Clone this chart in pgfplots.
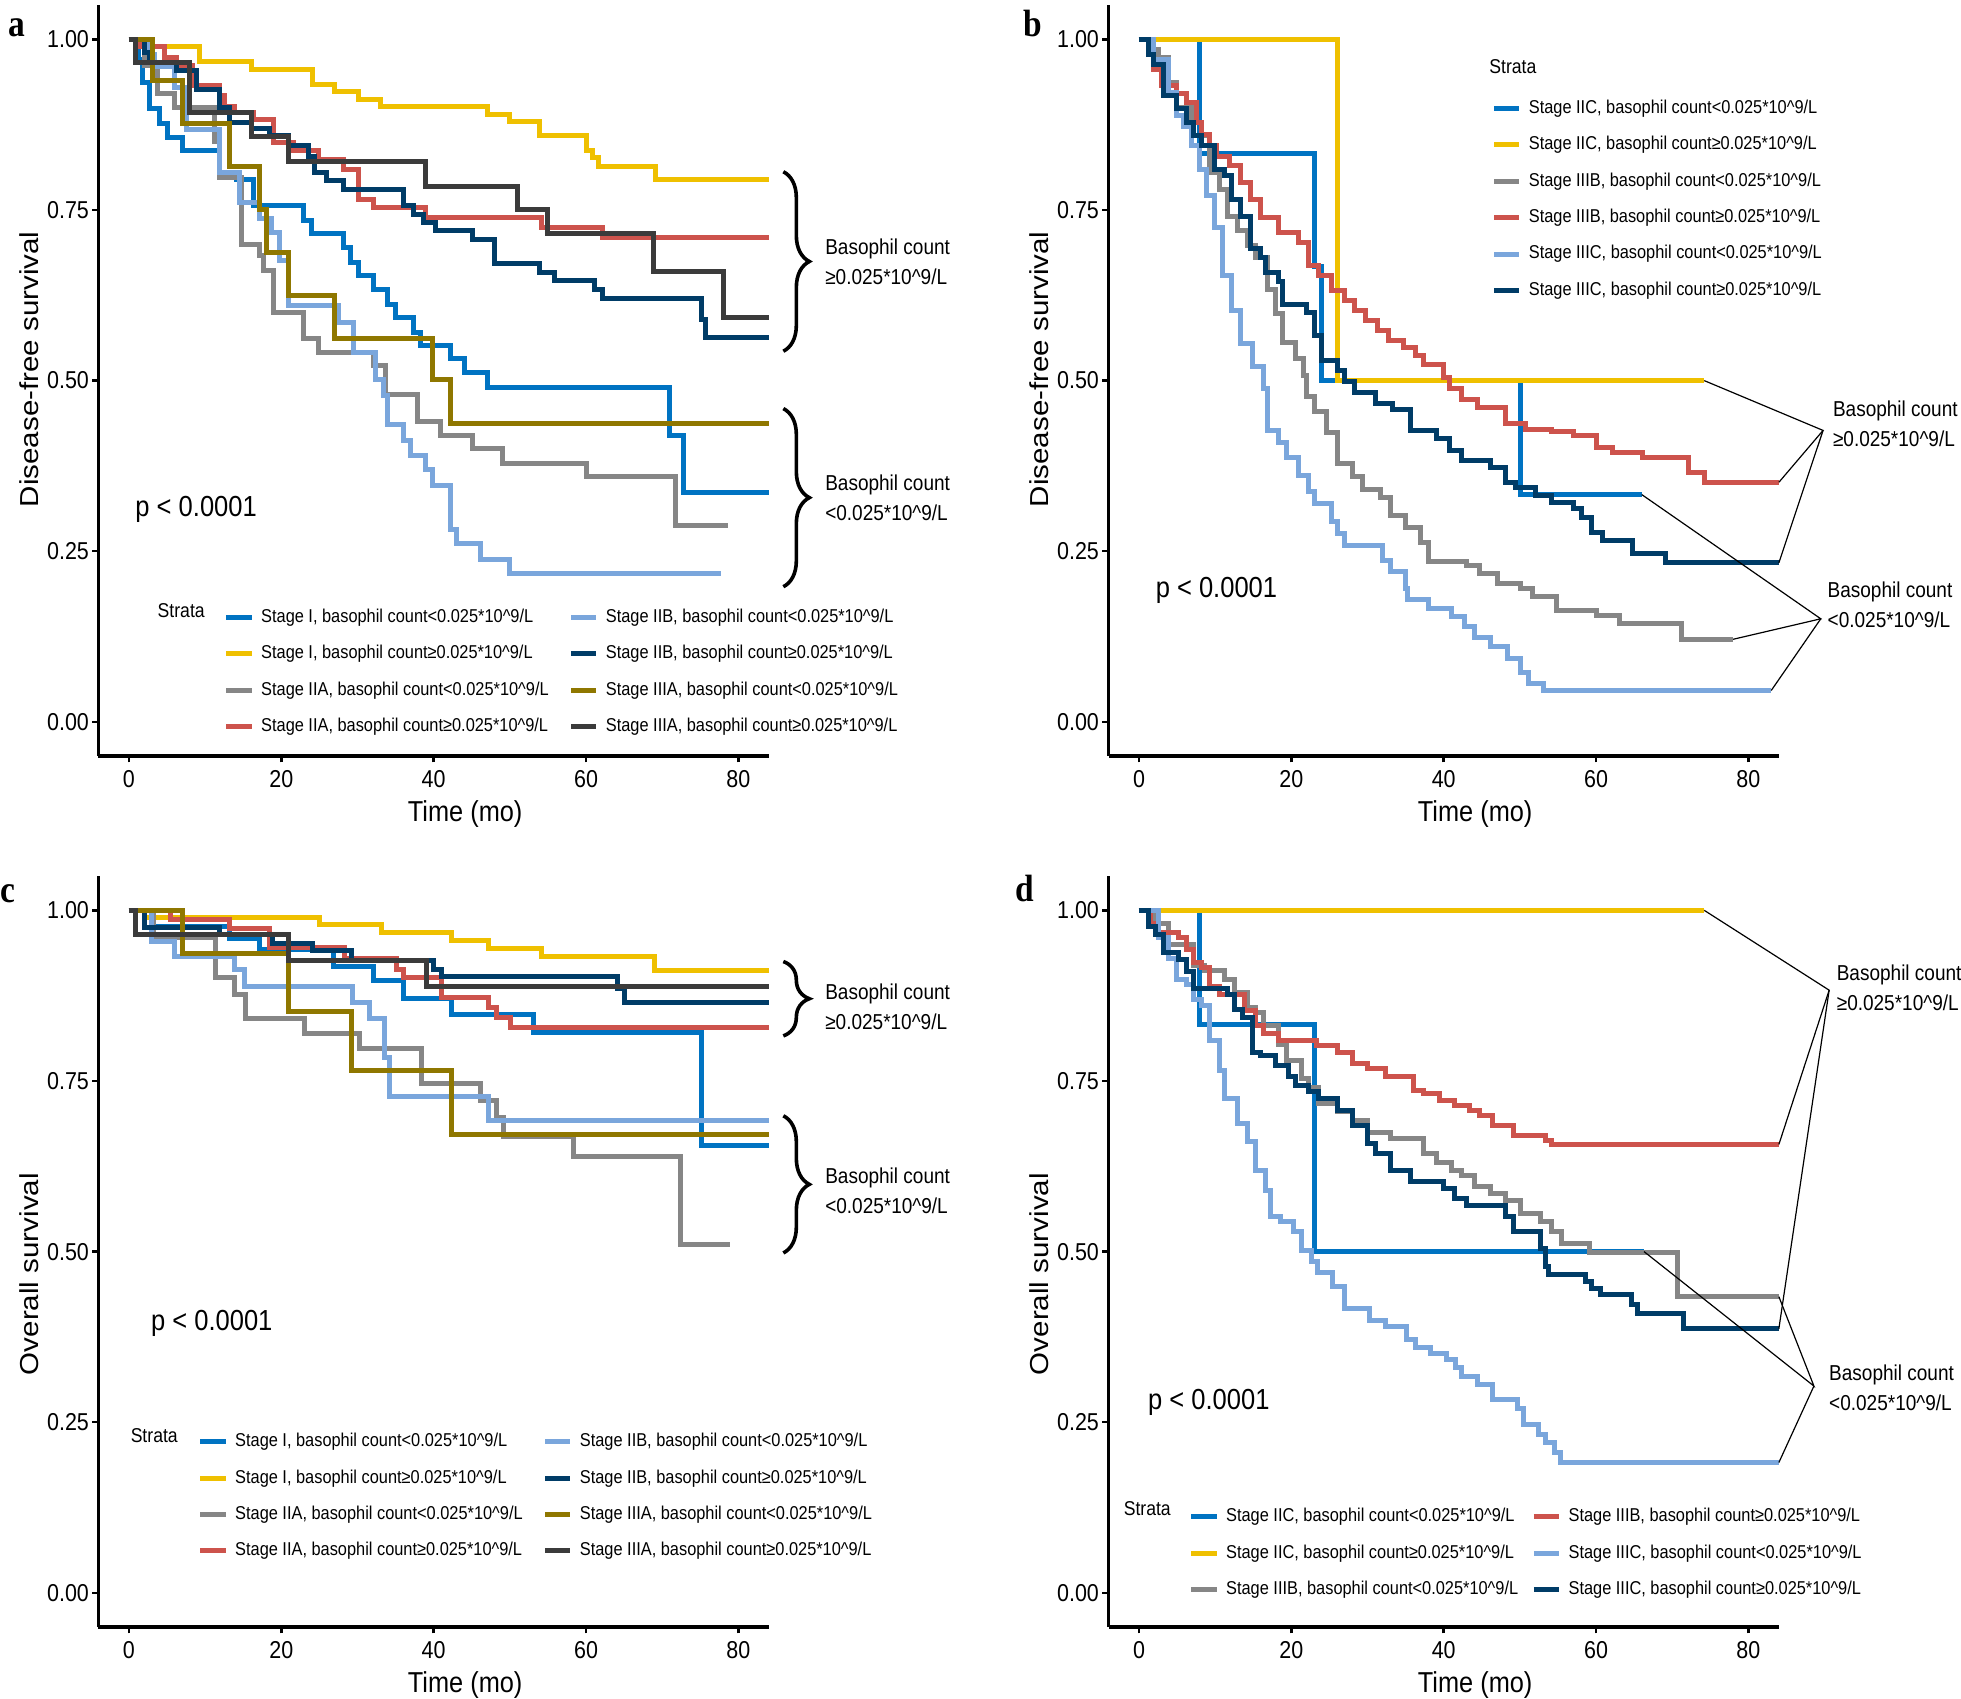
\documentclass[border=0pt]{standalone}
\usepackage{fontspec}
\setmainfont{Liberation Sans}[FakeStretch=0.88]
\newfontfamily\ylabfont{Liberation Sans}[FakeStretch=1.136]
\newfontfamily\letterfont{Liberation Serif}[FakeStretch=0.88]
\usepackage{pgfplots}
\pgfplotsset{compat=1.18}
\usetikzlibrary{decorations.pathreplacing}

\definecolor{jblue}{HTML}{0073C2}
\definecolor{jyellow}{HTML}{EFC000}
\definecolor{jgray}{HTML}{868686}
\definecolor{jred}{HTML}{CD534C}
\definecolor{jlblue}{HTML}{7AA6DC}
\definecolor{jdblue}{HTML}{003C67}
\definecolor{jolive}{HTML}{8F7700}
\definecolor{jdgray}{HTML}{3B3B3B}

\newcommand{\lo}{<0.025*10\textasciicircum9/L}
\newcommand{\hi}{≥0.025*10\textasciicircum9/L}

\pgfplotsset{
  km/.style={
    scale only axis, width=167.6pt, height=187.7pt,
    xmin=-4, xmax=84, ymin=-0.05, ymax=1.05,
    axis lines=left, axis line style={-, line width=0.85pt},
    xtick={0,20,40,60,80}, xticklabels={0,20,40,60,80},
    ytick={0,0.25,0.5,0.75,1}, yticklabels={0.00,0.25,0.50,0.75,1.00},
    /pgf/number format/assume math mode=true,
    tick align=outside, major tick length=1.6pt,
    every tick/.style={black, line width=0.6pt},
    tick label style={font=\fontsize{6.1}{7}\selectfont, inner sep=0pt},
    xticklabel style={anchor=north, yshift=-1.9pt},
    yticklabel style={anchor=east, xshift=-0.6pt},
    clip=false,
    every axis plot/.append style={const plot, line width=1.25pt},
    every axis x label/.style={at={(axis description cs:0.547,0)}, anchor=base, yshift=-16.4pt, font=\fontsize{7.2}{8}\selectfont},
    ylabpos/.initial=0.5,
    every axis y label/.style={at={(axis description cs:-0.0895,\pgfkeysvalueof{/pgfplots/ylabpos})}, anchor=base, rotate=90, font=\ylabfont\fontsize{6.5}{7}\selectfont},
    xlabel={Time (mo)},
    legend cell align=left,
    legend image code/.code={\draw[#1] (0pt,0pt) -- (6.3pt,0pt);},
    legend style={draw=none, fill=none, inner sep=0pt, outer sep=0pt, anchor=north west,
      font=\fontsize{4.65}{5}\selectfont,
      nodes={inner sep=0pt, text height=3.4pt, text depth=0.9pt}, row sep=4.8pt,
      /tikz/every odd column/.style={column sep=1.75pt},
      /tikz/every even column/.style={column sep=5.0pt}},
  },
}
\tikzset{
  annot/.style={anchor=west, align=left, inner sep=0pt, font=\fontsize{5.4}{7.5}\selectfont},
  pval/.style={anchor=base west, inner sep=0pt, font=\fontsize{7.25}{8}\selectfont},
  strata/.style={anchor=west, inner sep=0pt, font=\fontsize{5}{6}\selectfont},
  brace/.style={decorate, decoration={brace, amplitude=6.5pt}, line width=0.9pt},
  conn/.style={line width=0.3pt, black},
}

\begin{document}
\begin{tikzpicture}
\path[use as bounding box] (0pt,0pt) rectangle (490.25pt,-424.75pt);

% ---------------- a: DFS, stage I-IIIA
\begin{axis}[km, at={(24.625pt,-189pt)}, anchor=south west,
  ylabel={Disease-free survival}, ylabpos=0.515,
  legend columns=4, transpose legend,
  legend style={at={(axis description cs:0.1872,0.196)}}]
\addplot[jblue] coordinates {(0,1)(1.2,0.97)(1.8,0.937)(2.7,0.898)(4,0.876)(5,0.856)(7,0.837)(11.9,0.805)(14.1,0.795)(16.4,0.756)(22.9,0.734)(23.9,0.715)(28.2,0.695)(29.1,0.673)(30.1,0.654)(32.1,0.634)(34,0.612)(35,0.593)(37.3,0.571)(38.3,0.551)(42.2,0.532)(44.1,0.512)(47.1,0.49)(70.9,0.42)(72.8,0.336)(84,0.336)};
\addplot[jyellow] coordinates {(0,1)(2.5,0.99)(9.3,0.967)(16.1,0.956)(24.1,0.934)(27,0.924)(30.1,0.912)(33,0.902)(47.1,0.89)(50,0.88)(53.9,0.859)(60,0.837)(60.8,0.827)(61.7,0.813)(69.1,0.795)(84,0.795)};
\addplot[jgray] coordinates {(0,1)(2.1,0.961)(3.7,0.92)(6,0.9)(11.2,0.85)(11.9,0.797)(14.8,0.7)(17.1,0.683)(17.7,0.661)(19,0.6)(22.9,0.561)(24.9,0.541)(32.1,0.522)(33.7,0.48)(37.9,0.44)(40.9,0.42)(45.1,0.4)(49,0.379)(60.1,0.359)(71.8,0.288)(78.7,0.288)};
\addplot[jred] coordinates {(0,1)(1.4,0.99)(4.7,0.973)(6.3,0.961)(8.3,0.932)(11.9,0.918)(12.5,0.902)(13.8,0.893)(16.4,0.883)(19,0.849)(21.6,0.837)(24.9,0.824)(28.2,0.81)(30.1,0.766)(32.1,0.754)(38.9,0.739)(54.2,0.724)(62.1,0.71)(84,0.71)};
\addplot[jlblue] coordinates {(0,1)(2.7,0.978)(3.4,0.96)(6,0.93)(7.6,0.868)(11.9,0.805)(14.5,0.761)(17.1,0.737)(18.7,0.717)(19.7,0.676)(21,0.61)(27.5,0.585)(29.5,0.541)(32.4,0.502)(33.4,0.478)(34,0.435)(36,0.412)(37,0.39)(38.9,0.37)(39.9,0.347)(42.2,0.282)(43,0.261)(46.1,0.238)(50,0.217)(77.7,0.217)};
\addplot[jdblue] coordinates {(0,1)(2.1,0.98)(2.7,0.966)(6.3,0.954)(8.9,0.927)(11.9,0.9)(13.2,0.878)(16.1,0.87)(18.4,0.859)(21,0.844)(23.6,0.829)(24.3,0.805)(25.9,0.793)(28.2,0.78)(36,0.756)(37.3,0.744)(38.6,0.732)(40.2,0.72)(45.1,0.707)(48,0.671)(53.9,0.659)(55.9,0.646)(61.1,0.634)(62.1,0.62)(75.1,0.59)(75.7,0.563)(84,0.563)};
\addplot[jolive] coordinates {(0,1)(3.1,0.939)(7,0.876)(13.2,0.814)(17.1,0.75)(18.1,0.687)(21,0.624)(27,0.562)(39.9,0.502)(42.2,0.437)(84,0.437)};
\addplot[jdgray] coordinates {(0,1)(0.8,0.966)(8,0.893)(16.1,0.858)(21,0.821)(38.9,0.785)(51,0.75)(54.9,0.715)(68.9,0.66)(78,0.593)(84,0.593)};
\legend{{Stage I, basophil count\lo}, {Stage I, basophil count\hi}, {Stage IIA, basophil count\lo}, {Stage IIA, basophil count\hi},
  {Stage IIB, basophil count\lo}, {Stage IIB, basophil count\hi}, {Stage IIIA, basophil count\lo}, {Stage IIIA, basophil count\hi}}
\node[strata] at (axis cs:3.67,0.163) {Strata};
\node[pval] at (axis cs:0.75,0.301) {p < 0.0001};
\draw[brace] (axis cs:85.9,0.806) -- (axis cs:85.9,0.543);
\draw[brace] (axis cs:85.9,0.459) -- (axis cs:85.9,0.198);
\node[annot] at (axis cs:91.3,0.674) {Basophil count\\\hi};
\node[annot] at (axis cs:91.3,0.329) {Basophil count\\\lo};
\end{axis}

% ---------------- b: DFS, stage IIC-IIIC
\begin{axis}[km, at={(277.125pt,-189pt)}, anchor=south west,
  ylabel={Disease-free survival}, ylabpos=0.515,
  legend columns=1,
  legend style={at={(axis description cs:0.5716,0.874)}}]
\addplot[jblue] coordinates {(0,1)(8,0.833)(23.1,0.667)(24,0.5)(50.1,0.333)(66,0.333)};
\addplot[jyellow] coordinates {(0,1)(26,0.5)(74.2,0.5)};
\addplot[jgray] coordinates {(0,1)(1.5,0.985)(2.5,0.973)(3.9,0.937)(4.9,0.9)(6.9,0.859)(9.2,0.805)(10.6,0.78)(11.6,0.741)(12.9,0.72)(14.3,0.698)(15.3,0.68)(16.9,0.634)(17.9,0.598)(18.9,0.556)(20.6,0.532)(21.6,0.507)(22,0.476)(23,0.454)(24.6,0.424)(26,0.378)(28,0.359)(29.3,0.341)(31.7,0.329)(33,0.302)(35,0.285)(37,0.263)(38,0.235)(43,0.229)(44.7,0.217)(47.1,0.202)(50.1,0.195)(51.7,0.183)(54.8,0.163)(60.1,0.156)(63.1,0.144)(71.2,0.121)(78,0.121)};
\addplot[jred] coordinates {(0,1)(1.2,0.99)(1.9,0.956)(2.9,0.932)(4.9,0.92)(6.2,0.907)(7.6,0.878)(8.2,0.86)(9.2,0.844)(10.2,0.829)(11.9,0.815)(13.3,0.79)(14.6,0.766)(15.9,0.739)(18.3,0.717)(20.9,0.702)(22.3,0.668)(23.6,0.654)(25.3,0.632)(27,0.617)(28.3,0.602)(29.7,0.588)(31.3,0.573)(32.7,0.559)(34.7,0.549)(36.3,0.537)(37.3,0.524)(40,0.505)(40.7,0.488)(42.4,0.473)(44.4,0.461)(48.1,0.437)(50.7,0.429)(54.1,0.425)(57.1,0.419)(60.1,0.402)(62.1,0.395)(66.1,0.388)(72.2,0.366)(74.2,0.351)(84,0.351)};
\addplot[jlblue] coordinates {(0,1)(1.9,0.97)(3.9,0.922)(4.9,0.888)(5.9,0.873)(6.9,0.844)(7.9,0.81)(8.9,0.771)(9.9,0.724)(10.9,0.654)(12.2,0.602)(13.3,0.554)(14.9,0.52)(16.3,0.488)(16.9,0.427)(18.3,0.41)(19.3,0.388)(20.9,0.361)(22.3,0.337)(23,0.32)(25.3,0.293)(26,0.276)(27,0.259)(32,0.237)(33,0.22)(35,0.195)(35.3,0.18)(38,0.166)(41,0.154)(42.7,0.139)(44,0.124)(46.1,0.11)(48.4,0.093)(50.1,0.073)(51.1,0.056)(53.1,0.046)(83,0.046)};
\addplot[jdblue] coordinates {(0,1)(1.2,0.978)(1.9,0.963)(3.2,0.917)(4.9,0.898)(6.2,0.878)(7.2,0.859)(8.2,0.844)(9.9,0.81)(11.2,0.8)(12.2,0.766)(13.3,0.741)(14.6,0.693)(15.9,0.68)(16.6,0.659)(18.3,0.645)(18.9,0.612)(22,0.6)(23,0.566)(24,0.529)(26,0.515)(27,0.498)(28.3,0.483)(31,0.466)(33.3,0.458)(35.7,0.427)(39,0.415)(40.7,0.398)(42.4,0.383)(46.1,0.373)(48.1,0.351)(49.4,0.344)(52.1,0.332)(54.1,0.321)(57.1,0.312)(58.1,0.3)(59.4,0.278)(60.8,0.266)(64.8,0.246)(69.1,0.233)(84,0.233)};
\legend{{Stage IIC, basophil count\lo}, {Stage IIC, basophil count\hi}, {Stage IIIB, basophil count\lo},
  {Stage IIIB, basophil count\hi}, {Stage IIIC, basophil count\lo}, {Stage IIIC, basophil count\hi}}
\node[strata] at (axis cs:45.9,0.96) {Strata};
\node[pval] at (axis cs:2.1,0.182) {p < 0.0001};
\draw[conn] (axis cs:74.2,0.5) -- (axis cs:89.8,0.427) -- (axis cs:84,0.351);
\draw[conn] (axis cs:89.8,0.427) -- (axis cs:84,0.233);
\draw[conn] (axis cs:66,0.333) -- (axis cs:89.5,0.151) -- (axis cs:78,0.121);
\draw[conn] (axis cs:89.5,0.151) -- (axis cs:83,0.046);
\node[annot] at (axis cs:91.0,0.437) {Basophil count\\\hi};
\node[annot] at (axis cs:90.3,0.172) {Basophil count\\\lo};
\end{axis}

% ---------------- c: OS, stage I-IIIA
\begin{axis}[km, at={(24.625pt,-406.75pt)}, anchor=south west,
  ylabel={Overall survival}, ylabpos=0.47,
  legend columns=4, transpose legend,
  legend style={at={(axis description cs:0.1484,0.2582)}}]
\addplot[jblue] coordinates {(0,1)(2.9,0.977)(13.2,0.958)(17.2,0.942)(26.9,0.917)(32.1,0.897)(36.1,0.871)(42.3,0.848)(53.1,0.821)(75.2,0.656)(84,0.656)};
\addplot[jyellow] coordinates {(0,1)(2.1,0.989)(25,0.979)(33.1,0.967)(42.3,0.956)(47.2,0.944)(54.2,0.933)(69,0.912)(84,0.912)};
\addplot[jgray] coordinates {(0,1)(3.2,0.96)(11.3,0.901)(13.9,0.877)(15.3,0.841)(23,0.819)(30.2,0.797)(38.4,0.747)(46.2,0.722)(48.2,0.696)(49.2,0.669)(58.4,0.64)(72.4,0.511)(78.9,0.511)};
\addplot[jred] coordinates {(0,1)(5.5,0.987)(13.2,0.974)(18.5,0.945)(28.3,0.93)(35.1,0.914)(36.1,0.902)(41,0.872)(47.2,0.858)(48.2,0.843)(50.1,0.828)(84,0.828)};
\addplot[jlblue] coordinates {(0,1)(2.9,0.955)(6,0.933)(13.8,0.914)(15.1,0.889)(29.3,0.865)(31.6,0.841)(33.5,0.785)(34.2,0.727)(47.2,0.692)(84,0.692)};
\addplot[jdblue] coordinates {(0,1)(2.1,0.975)(11.9,0.965)(18.8,0.951)(24.1,0.941)(29.2,0.927)(40,0.914)(41,0.903)(64.1,0.885)(65.1,0.865)(84,0.865)};
\addplot[jolive] coordinates {(0,1)(7,0.937)(21,0.852)(29.2,0.766)(42.3,0.671)(84,0.671)};
\addplot[jdgray] coordinates {(0,1)(0.8,0.964)(21,0.927)(39,0.888)(84,0.888)};
\legend{{Stage I, basophil count\lo}, {Stage I, basophil count\hi}, {Stage IIA, basophil count\lo}, {Stage IIA, basophil count\hi},
  {Stage IIB, basophil count\lo}, {Stage IIB, basophil count\hi}, {Stage IIIA, basophil count\lo}, {Stage IIIA, basophil count\hi}}
\node[strata] at (axis cs:0.13,0.231) {Strata};
\node[pval] at (axis cs:2.8,0.385) {p < 0.0001};
\draw[brace] (axis cs:85.9,0.925) -- (axis cs:85.9,0.816);
\draw[brace] (axis cs:85.9,0.699) -- (axis cs:85.9,0.498);
\node[annot] at (axis cs:91.3,0.858) {Basophil count\\\hi};
\node[annot] at (axis cs:91.3,0.589) {Basophil count\\\lo};
\end{axis}

% ---------------- d: OS, stage IIC-IIIC
\begin{axis}[km, at={(277.125pt,-406.75pt)}, anchor=south west,
  ylabel={Overall survival}, ylabpos=0.47,
  legend columns=3, transpose legend,
  legend style={at={(axis description cs:0.12,0.1585)}, /tikz/every even column/.style={column sep=3.3pt}}]
\addplot[jblue] coordinates {(0,1)(8,0.833)(23.1,0.5)(66.3,0.5)};
\addplot[jyellow] coordinates {(0,1)(74.2,1)};
\addplot[jgray] coordinates {(0,1)(1.9,0.98)(3.9,0.95)(7.2,0.919)(8.6,0.912)(11.2,0.899)(12.6,0.88)(14.3,0.858)(15.3,0.85)(16.3,0.831)(18.3,0.804)(19.3,0.78)(21.3,0.753)(22.3,0.74)(23.6,0.717)(26,0.705)(28,0.692)(30,0.675)(33,0.666)(37.3,0.644)(39,0.631)(41,0.619)(42.4,0.612)(44,0.595)(46.1,0.585)(48.1,0.575)(50.1,0.556)(52.7,0.544)(54.1,0.529)(55.4,0.512)(59.1,0.498)(70.7,0.434)(84,0.434)};
\addplot[jred] coordinates {(0,1)(1.5,0.98)(2.5,0.967)(5.2,0.96)(6.2,0.943)(7.2,0.924)(8.2,0.916)(9.2,0.889)(10.6,0.876)(13.9,0.853)(15.3,0.831)(16.3,0.819)(18.3,0.809)(23.3,0.802)(26,0.792)(28,0.775)(30,0.768)(32.3,0.756)(36,0.736)(37.3,0.731)(39.4,0.722)(41.4,0.714)(43.4,0.707)(44.7,0.7)(46.4,0.685)(49.1,0.67)(53.4,0.663)(54.1,0.657)(84,0.657)};
\addplot[jlblue] coordinates {(0,1)(2.5,0.96)(3.9,0.93)(4.9,0.899)(6.2,0.892)(7.2,0.87)(8.2,0.86)(9.2,0.809)(10.6,0.765)(11.2,0.724)(12.9,0.687)(14.3,0.661)(15.3,0.619)(16.6,0.59)(17.3,0.551)(18.6,0.544)(20.3,0.529)(21.3,0.502)(22.6,0.485)(23.4,0.469)(25.4,0.449)(27,0.416)(30.3,0.399)(32.3,0.39)(35.1,0.371)(36.3,0.36)(38.3,0.351)(40.4,0.342)(41.6,0.33)(42.4,0.317)(44.4,0.305)(46.4,0.283)(49.7,0.27)(50.5,0.247)(52.5,0.232)(53.3,0.221)(54.5,0.205)(55.3,0.191)(84,0.191)};
\addplot[jdblue] coordinates {(0,1)(1.2,0.977)(2.2,0.965)(3.2,0.938)(5.2,0.928)(6.2,0.911)(7.2,0.885)(11.6,0.877)(12.6,0.855)(13.6,0.843)(14.9,0.792)(15.9,0.787)(17.9,0.773)(19.6,0.756)(20.6,0.743)(22.3,0.734)(23.6,0.724)(26,0.707)(28,0.685)(30,0.658)(31,0.644)(33,0.619)(35.7,0.602)(40,0.593)(41.4,0.578)(43,0.568)(48.1,0.551)(49.1,0.529)(52.7,0.505)(53.3,0.478)(53.7,0.467)(58.6,0.456)(59.4,0.446)(60.6,0.437)(64.6,0.422)(65.4,0.409)(71.5,0.387)(84,0.387)};
\legend{{Stage IIC, basophil count\lo}, {Stage IIC, basophil count\hi}, {Stage IIIB, basophil count\lo},
  {Stage IIIB, basophil count\hi}, {Stage IIIC, basophil count\lo}, {Stage IIIC, basophil count\hi}}
\node[strata] at (axis cs:-2.1,0.123) {Strata};
\node[pval] at (axis cs:1.1,0.269) {p < 0.0001};
\draw[conn] (axis cs:74.2,1) -- (axis cs:90.6,0.883) -- (axis cs:84,0.657);
\draw[conn] (axis cs:90.6,0.883) -- (axis cs:84,0.387);
\draw[conn] (axis cs:66.3,0.5) -- (axis cs:88.6,0.303) -- (axis cs:84,0.434);
\draw[conn] (axis cs:88.6,0.303) -- (axis cs:84,0.191);
\node[annot] at (axis cs:91.5,0.886) {Basophil count\\\hi};
\node[annot] at (axis cs:90.5,0.301) {Basophil count\\\lo};
\end{axis}

% panel letters
\begin{scope}[every node/.style={anchor=base west, inner sep=0pt, font=\letterfont\bfseries\fontsize{9.5}{10}\selectfont}]
\node at (1.9pt,-9.25pt) {a};
\node at (255.75pt,-9.25pt) {b};
\node at (0pt,-225.75pt) {c};
\node at (253.75pt,-225.5pt) {d};
\end{scope}
\end{tikzpicture}
\end{document}
